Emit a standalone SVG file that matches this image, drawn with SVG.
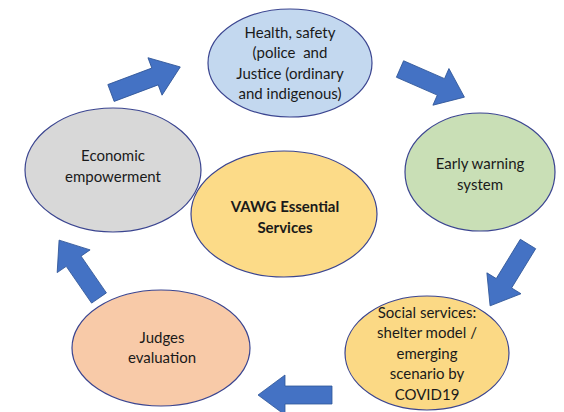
<svg xmlns="http://www.w3.org/2000/svg" width="564" height="412" viewBox="0 0 564 412">
  <style>
    .node ellipse { stroke: #3b4590; stroke-width: 1.2; }
    .node text { font-family: Lato, "Open Sans", "Liberation Sans", sans-serif; font-size: 15px; fill: #1a1a1a; text-anchor: middle; }
    .node text.bold { font-weight: bold; font-size: 15px; }
    .arrow { fill: #4472c4; stroke: #2f5597; stroke-width: 0.8; stroke-linejoin: miter; }
  </style>
  <defs>
    <!-- block arrow pointing along +x, tail centre at origin -->
    <polygon id="blockArrow" points="0,-9 47,-9 47,-20 74,0 47,20 47,9 0,9"/>
  </defs>
  <rect width="564" height="412" fill="#ffffff"/>

  <g id="connectors">
    <use href="#blockArrow" class="arrow" transform="translate(111,93) rotate(-20.6)"/>
    <use href="#blockArrow" class="arrow" transform="translate(400,69) rotate(23.6) scale(0.95,1)"/>
    <use href="#blockArrow" class="arrow" transform="translate(528,244) rotate(121.5) scale(0.98,1)"/>
    <use href="#blockArrow" class="arrow" transform="translate(332,395) rotate(180)"/>
    <use href="#blockArrow" class="arrow" transform="translate(99,298) rotate(-124.6) scale(0.95,1)"/>
  </g>

  <g id="health" class="node">
    <ellipse cx="290" cy="63" rx="82" ry="54" fill="#c3d8ef"/>
    <text x="290" y="38">Health, safety</text>
    <text x="290" y="58" xml:space="preserve">(police  and</text>
    <text x="290" y="79">Justice (ordinary</text>
    <text x="290" y="99">and indigenous)</text>
  </g>

  <g id="early-warning" class="node">
    <ellipse cx="480" cy="172" rx="75" ry="59" fill="#c9dfb6"/>
    <text x="480" y="169">Early warning</text>
    <text x="480" y="190">system</text>
  </g>

  <g id="social" class="node">
    <ellipse cx="427" cy="353" rx="82" ry="57" fill="#fbd985"/>
    <text x="427" y="318">Social services:</text>
    <text x="427" y="338">shelter model /</text>
    <text x="427" y="359">emerging</text>
    <text x="427" y="379">scenario by</text>
    <text x="427" y="400">COVID19</text>
  </g>

  <g id="judges" class="node">
    <ellipse cx="161" cy="348" rx="89" ry="58" fill="#f8caa8"/>
    <text x="162" y="343">Judges</text>
    <text x="162" y="363">evaluation</text>
  </g>

  <g id="economic" class="node">
    <ellipse cx="113" cy="170" rx="88" ry="62" fill="#d8d8d8"/>
    <text x="113" y="161">Economic</text>
    <text x="113" y="182">empowerment</text>
  </g>

  <g id="vawg" class="node">
    <ellipse cx="284" cy="214" rx="93" ry="63" fill="#fcdb88"/>
    <text class="bold" x="285" y="212">VAWG Essential</text>
    <text class="bold" x="285" y="233">Services</text>
  </g>
</svg>
